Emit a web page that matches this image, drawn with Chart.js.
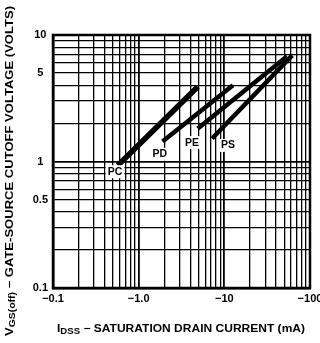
<!DOCTYPE html>
<html>
<head>
<meta charset="utf-8">
<script src="https://cdn.jsdelivr.net/npm/chart.js@4.4.1/dist/chart.umd.min.js"></script>
<style>
  html, body { margin: 0; padding: 0; background: #fff; }
  #wrap { width: 320px; height: 343px; position: relative; }
</style>
</head>
<body>
<div id="wrap"><canvas id="vgsChart"></canvas></div>
<script>
// device types and the ends of each line (IDSS in mA as magnitude, VGS(off) in volts)
const deviceNames = ['PC', 'PD', 'PE', 'PS'];
const idssLow  = [0.57, 1.9, 4.9, 7.2];
const idssHigh = [4.9, 12.6, 54, 62];
const vgsLow   = [0.93, 1.44, 1.82, 1.52];
const vgsHigh  = [3.9, 4.0, 6.8, 6.9];

// where each device name is written
const labelIdss = [0.53, 1.77, 4.2, 11.0];
const labelVgs  = [0.83, 1.14, 1.41, 1.34];

// axes
const xTickValues = [0.1, 1, 10, 100];
const xTickLabels = ['\u22120.1', '\u22121.0', '\u221210', '\u2212100'];
const yTickValues = [0.1, 0.5, 1, 5, 10];
const yTickLabels = ['0.1', '0.5', '1', '5', '10'];

const xTitle = [['I', false], ['DSS', true], [' \u2212 SATURATION DRAIN CURRENT (mA)', false]];
const yTitle = [['V', false], ['GS(off)', true], [' \u2212 GATE-SOURCE CUTOFF VOLTAGE (VOLTS)', false]];

const FONT = '"Liberation Sans", Arial, sans-serif';

function logGrid(min, max) {
    const vals = [];
    for (let e = Math.log10(min); e < Math.log10(max); e++) {
        for (let m = 1; m <= 9; m++) vals.push(+(m * Math.pow(10, e)).toPrecision(3));
    }
    vals.push(max);
    return vals;
}

function isMajor(v) {
    const l = Math.log10(v);
    return Math.abs(l - Math.round(l)) < 1e-6;
}

const datasets = deviceNames.map(function(name, i) {
    return {
        label: name,
        data: [{x: idssLow[i], y: vgsLow[i]}, {x: idssHigh[i], y: vgsHigh[i]}],
        borderColor: '#000',
        borderWidth: i === 0 ? 5.5 : 4.5,
        borderCapStyle: 'butt',
        pointRadius: 0,
        fill: false
    };
});

function drawParts(ctx, parts, size, x, y, targetLen) {
    // measure at base size, then scale to fit target length
    function width(sz) {
        let w = 0;
        parts.forEach(function(p) {
            ctx.font = 'bold ' + (p[1] ? sz * 0.8 : sz) + 'px ' + FONT;
            w += ctx.measureText(p[0]).width;
        });
        return w;
    }
    let w = width(size);
    const sx = targetLen / w;
    ctx.save();
    ctx.translate(x, y);
    ctx.scale(sx, 1);
    let cx = -w / 2;
    ctx.textBaseline = 'middle';
    ctx.textAlign = 'left';
    ctx.fillStyle = '#000';
    parts.forEach(function(p) {
        const sz = p[1] ? size * 0.8 : size;
        ctx.font = 'bold ' + sz + 'px ' + FONT;
        ctx.fillText(p[0], cx, p[1] ? size * 0.3 : 0);
        cx += ctx.measureText(p[0]).width;
    });
    ctx.restore();
}

const decorations = {
    id: 'decorations',
    afterDatasetsDraw: function(chart) {
        const ctx = chart.ctx;
        const xs = chart.scales.x, ys = chart.scales.y;
        const a = chart.chartArea;

        // frame
        ctx.save();
        ctx.strokeStyle = '#000';
        ctx.lineWidth = 2.5;
        ctx.strokeRect(a.left, a.top, a.right - a.left, a.bottom - a.top);
        ctx.restore();

        // device labels
        ctx.save();
        ctx.font = 'bold 10.5px ' + FONT;
        ctx.textAlign = 'center';
        ctx.textBaseline = 'middle';
        deviceNames.forEach(function(name, i) {
            const px = xs.getPixelForValue(labelIdss[i]);
            const py = ys.getPixelForValue(labelVgs[i]);
            const w = ctx.measureText(name).width + 4;
            ctx.fillStyle = '#fff';
            ctx.fillRect(px - w / 2, py - 6.5, w, 13);
            ctx.fillStyle = '#000';
            ctx.fillText(name, px, py);
        });
        ctx.restore();
    },
    afterDraw: function(chart) {
        const ctx = chart.ctx;
        drawParts(ctx, xTitle, 10.5, 181, 329, 248);
        ctx.save();
        ctx.translate(10, 171);
        ctx.rotate(-Math.PI / 2);
        drawParts(ctx, yTitle, 10.5, 0, 0, 330);
        ctx.restore();
    }
};

new Chart(document.getElementById('vgsChart'), {
    type: 'line',
    data: { datasets: datasets },
    options: {
        responsive: true,
        maintainAspectRatio: false,
        animation: false,
        events: [],
        layout: { padding: { top: 35, right: 10, left: 0, bottom: 0 } },
        plugins: { legend: { display: false }, tooltip: { enabled: false } },
        scales: {
            x: {
                type: 'logarithmic',
                min: 0.1,
                max: 100,
                afterBuildTicks: function(scale) {
                    scale.ticks = logGrid(0.1, 100).map(function(v) { return {value: v}; });
                },
                afterFit: function(scale) {
                    scale.height = 55;
                    scale.paddingLeft = 0;
                    scale.paddingRight = 0;
                },
                grid: {
                    color: '#000',
                    lineWidth: function(c) { return c.tick && isMajor(c.tick.value) ? 1.8 : 1.3; },
                    drawTicks: false
                },
                border: { display: true, color: '#000', width: 2.5 },
                ticks: {
                    autoSkip: false,
                    maxRotation: 0,
                    padding: 4,
                    color: '#000',
                    font: { family: FONT, size: 11, weight: 'bold' },
                    callback: function(v) {
                        const k = xTickValues.findIndex(function(t) { return Math.abs(t - v) < 1e-9; });
                        return k >= 0 ? xTickLabels[k] : '';
                    }
                }
            },
            y: {
                type: 'logarithmic',
                min: 0.1,
                max: 10,
                afterBuildTicks: function(scale) {
                    scale.ticks = logGrid(0.1, 10).map(function(v) { return {value: v}; });
                },
                afterFit: function(scale) {
                    scale.width = 53;
                    scale.paddingTop = 0;
                    scale.paddingBottom = 0;
                },
                grid: {
                    color: '#000',
                    lineWidth: function(c) { return c.tick && isMajor(c.tick.value) ? 1.8 : 1.3; },
                    drawTicks: false
                },
                border: { display: true, color: '#000', width: 2.5 },
                ticks: {
                    autoSkip: false,
                    crossAlign: 'center',
                    padding: 5,
                    color: '#000',
                    font: { family: FONT, size: 11, weight: 'bold' },
                    callback: function(v) {
                        const k = yTickValues.findIndex(function(t) { return Math.abs(t - v) < 1e-9; });
                        return k >= 0 ? yTickLabels[k] : '';
                    }
                }
            }
        }
    },
    plugins: [decorations]
});
</script>
</body>
</html>
